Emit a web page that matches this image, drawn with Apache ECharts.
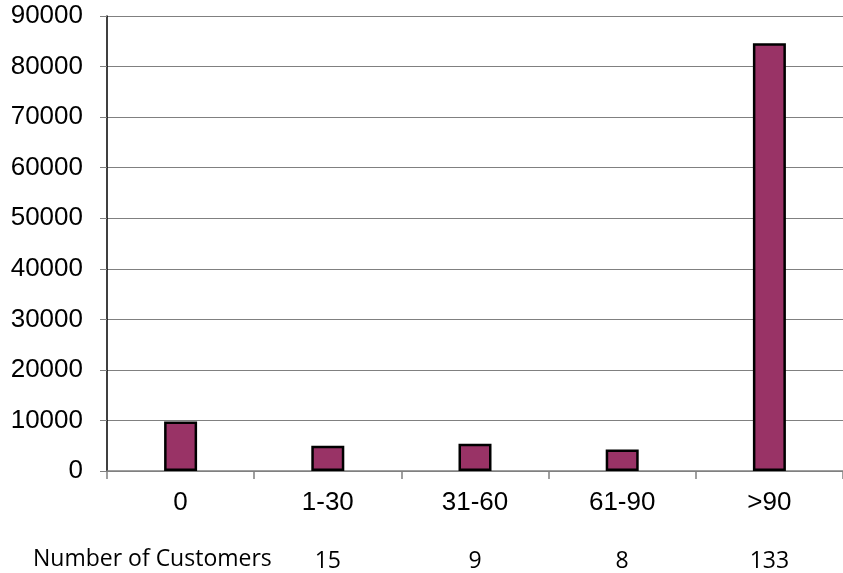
<!DOCTYPE html>
<html>
<head>
<meta charset="utf-8">
<script src="https://cdn.jsdelivr.net/npm/echarts@6/dist/echarts.min.js"></script>
<style>
html,body{margin:0;padding:0;background:#fff;}
#c{width:843px;height:573px;}
</style>
</head>
<body>
<div id="c"></div>
<script>
const categories = ['0', '1-30', '31-60', '61-90', '>90'];
const amounts = [9800, 5000, 5400, 4250, 84600];
const customers = ['', '15', '9', '8', '133'];
const rowLabel = 'Number of Customers';
const yTicks = { min: 0, max: 90000, interval: 10000 };

const chart = echarts.init(document.getElementById('c'), null, { renderer: 'canvas' });
chart.setOption({
  animation: false,
  backgroundColor: '#ffffff',
  grid: { left: 107, top: 16, width: 743, height: 456.5, containLabel: false },
  xAxis: [
    {
      type: 'category',
      data: categories,
      position: 'bottom',
      axisLine: { lineStyle: { color: '#808080', width: 1.5 } },
      axisTick: { show: true, length: 8, lineStyle: { color: '#808080', width: 1.5 } },
      axisLabel: { color: '#000', fontFamily: 'Liberation Sans, Arial', fontSize: 26, margin: 19 }
    },
    {
      type: 'category',
      data: customers,
      position: 'bottom',
      offset: 73,
      axisLine: { show: false },
      axisTick: { show: false },
      axisLabel: { color: '#000', fontFamily: 'Open Sans', fontSize: 23, margin: 6 }
    }
  ],
  yAxis: {
    type: 'value',
    min: yTicks.min,
    max: yTicks.max,
    interval: yTicks.interval,
    axisLine: { show: true, lineStyle: { color: '#000', width: 1.5 } },
    axisTick: { show: true, length: 7, lineStyle: { color: '#808080' } },
    axisLabel: {
      color: '#000', fontFamily: 'Liberation Sans, Arial', fontSize: 26, margin: 24,
      formatter: function (v) { return String(v); }
    },
    splitLine: { show: true, lineStyle: { color: '#808080', width: 1 } }
  },
  graphic: [
    {
      type: 'text',
      left: 33,
      top: 548,
      style: { text: rowLabel, fill: '#000', font: '23px "Open Sans"' }
    }
  ],
  series: [
    {
      type: 'bar',
      xAxisIndex: 0,
      data: amounts,
      barWidth: 33,
      itemStyle: { color: '#993366', borderColor: '#000', borderWidth: 2.5 }
    }
  ]
});
</script>
</body>
</html>
